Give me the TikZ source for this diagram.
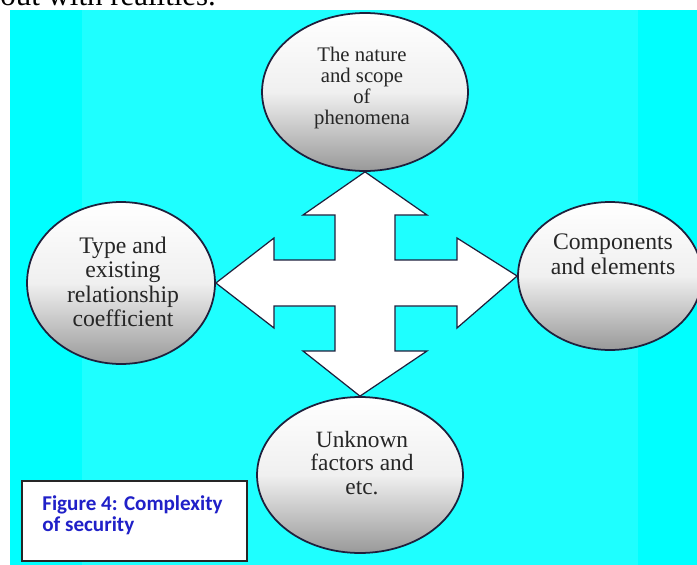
\documentclass[tikz,border=0pt]{standalone}
\usepackage{fontspec}
\setmainfont{Liberation Serif}
\newfontfamily\capfont{Carlito}
\usetikzlibrary{shapes.geometric}

\definecolor{bgcyan}{RGB}{0,255,255}
\definecolor{bglight}{RGB}{30,255,255}
\definecolor{rimblue}{RGB}{30,32,60}
\definecolor{capblue}{RGB}{32,32,200}

\tikzset{
	bubble/.style={ellipse, draw=rimblue, line width=1pt, top color=white, bottom color=black!40, middle color=black!6, inner sep=0pt},
	bubbletext/.style={align=center, text=black!85, inner sep=0pt},
	crossarrow/.style={draw=rimblue, fill=white, line width=0.7pt, line join=miter},
}

\begin{document}
\begin{tikzpicture}[x=0.02cm, y=-0.02cm]
	\path[use as bounding box, clip] (0,0) rectangle (697,565);
	\fill[white] (0,0) rectangle (697,565);
	\fill[bgcyan] (10,10) rectangle (697,565);
	\fill[bglight] (82,10) rectangle (638,565);
	\node[anchor=base west, inner sep=0pt, font=\fontsize{17.6}{20}\selectfont] (prevline) at (0,5) {out with realities.};

	% the four bubbles
	\node[bubble, minimum width=4.12cm, minimum height=3.16cm] (nature) at (365,92) {};
	\node[bubble, minimum width=3.76cm, minimum height=3.24cm] (type) at (121,283) {};
	\node[bubble, minimum width=3.68cm, minimum height=2.96cm] (comps) at (610,276) {};
	\node[bubble, minimum width=4.12cm, minimum height=3.12cm] (unknown) at (360,475) {};

	% cross arrow between them
	\draw[crossarrow] (nature.south) -- (427,215) -- (395,215) -- (395,260) -- (457,260) -- (457,238)
		-- (comps.west) -- (457,328) -- (457,306) -- (395,306) -- (395,351) -- (427,351)
		-- (unknown.north) -- (303,351) -- (335,351) -- (335,306) -- (274,306) -- (274,328)
		-- (type.east) -- (274,238) -- (274,260) -- (335,260) -- (335,215) -- (303,215) -- cycle;

	\node[bubbletext, font=\fontsize{11.8}{12}\selectfont] (natureText) at (362,88) {The nature\\and scope\\of\\phenomena};
	\node[bubbletext, font=\fontsize{13.5}{13.8}\selectfont] (typeText) at (123,282) {Type and\\existing\\relationship\\coefficient};
	\begin{scope}
		\clip (500,200) rectangle (677,300);
		\node[bubbletext, font=\fontsize{13.5}{14.2}\selectfont] (compsText) at (613,254) {Components\\and elements};
	\end{scope}
	\node[bubbletext, font=\fontsize{13.3}{13.4}\selectfont] (unknownText) at (362,463) {Unknown\\factors and\\etc.};

	% caption box
	\draw[draw=black!85, fill=white, line width=0.9pt] (22,481) rectangle (247,561);
	\node[anchor=north west, align=left, inner sep=0pt, text=capblue, font=\capfont\bfseries\fontsize{12}{12.2}\selectfont] (caption) at (42,495) {Figure 4: Complexity\\of security};
\end{tikzpicture}
\end{document}
